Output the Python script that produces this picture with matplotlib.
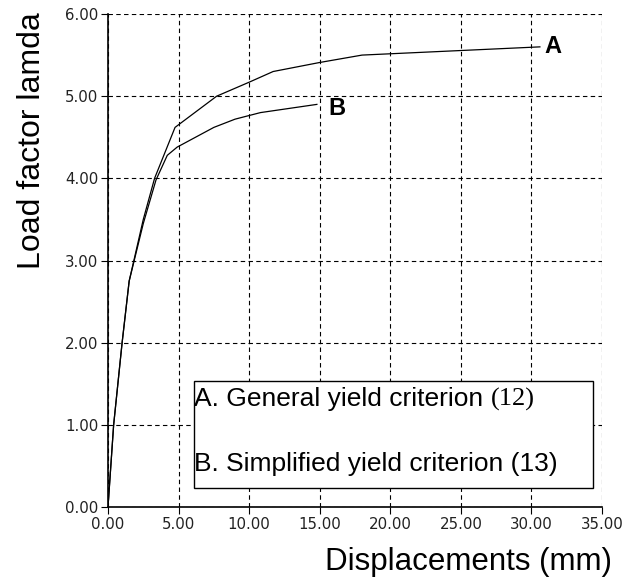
import matplotlib
matplotlib.use("Agg")
import matplotlib.pyplot as plt
from matplotlib.ticker import FormatStrFormatter

# Curve A: general yield criterion (12)
a_x = [0.0, 0.4, 1.0, 1.5, 2.5, 3.3, 4.75, 7.7, 10.0, 11.7, 15.0, 18.0, 30.6]
a_y = [0.0, 1.0, 2.0, 2.75, 3.5, 4.0, 4.62, 5.0, 5.17, 5.3, 5.41, 5.5, 5.6]
# Curve B: simplified yield criterion (13)
b_x = [0.0, 0.4, 1.0, 1.5, 2.5, 3.4, 4.2, 4.9, 7.5, 9.0, 10.8, 14.8]
b_y = [0.0, 1.0, 2.0, 2.75, 3.45, 3.98, 4.28, 4.38, 4.62, 4.72, 4.80, 4.90]

x_ticks = [0, 5, 10, 15, 20, 25, 30, 35]
y_ticks = [0, 1, 2, 3, 4, 5, 6]

fig = plt.figure(figsize=(6.22, 5.80), dpi=100)
ax = fig.add_axes([108/622, 1-507/580, (602-108)/622, (507-14)/580])

ax.plot(a_x, a_y, color="black", lw=0.9)
ax.plot(b_x, b_y, color="black", lw=0.9)

ax.set_xlim(0, 35)
ax.set_ylim(0, 6)
ax.set_xticks(x_ticks)
ax.set_yticks(y_ticks)
ax.xaxis.set_major_formatter(FormatStrFormatter("%.2f"))
ax.yaxis.set_major_formatter(FormatStrFormatter("%.2f"))
ax.grid(True, color="black", linestyle=(0, (4, 3)), lw=0.8)
ax.set_axisbelow(True)

for s in ["top", "right"]:
    ax.spines[s].set_visible(False)
for s in ["left", "bottom"]:
    ax.spines[s].set_linewidth(1.2)

ax.tick_params(direction="out", length=5, width=0.8, labelsize=10.8, pad=2)
for lab in ax.get_xticklabels() + ax.get_yticklabels():
    lab.set_family("DejaVu Sans")
    lab.set_color("#222222")

ax.text(30.9, 5.6, "A", fontsize=17, fontweight="bold", family="Liberation Sans",
        va="center", ha="left")
ax.text(15.6, 4.85, "B", fontsize=17, fontweight="bold", family="Liberation Sans",
        va="center", ha="left")

# legend box
bx0 = (194 - 108) / 14.114
bx1 = (593 - 108) / 14.114
by0 = (507 - 488) / 82.17
by1 = (507 - 381) / 82.17
ax.add_patch(plt.Rectangle((bx0, by0), bx1 - bx0, by1 - by0, facecolor="white",
                           edgecolor="black", lw=1.0, zorder=3))
ya = (507 - 399) / 82.17
yb = (507 - 464) / 82.17
fs = 19
t = ax.text(bx0, ya, "A. General yield criterion ", fontsize=fs, family="Liberation Sans",
            va="center", ha="left", zorder=4)
fig.canvas.draw()
bb = t.get_window_extent()
xend = ax.transData.inverted().transform((bb.x1, bb.y0))[0]
ax.text(xend, ya, "(12)", fontsize=fs, family="Liberation Serif",
        va="center", ha="left", zorder=4)
ax.text(bx0, yb, "B. Simplified yield criterion (13)", fontsize=fs,
        family="Liberation Sans", va="center", ha="left", zorder=4)

ax.set_xlabel("Displacements (mm)", fontsize=22.5, family="Liberation Sans")
ax.xaxis.set_label_coords((612 - 108) / 494, -(570 - 507) / 493)
ax.xaxis.label.set_ha("right")
ax.xaxis.label.set_va("baseline")
ax.set_ylabel("Load factor lamda", fontsize=23, family="Liberation Sans")
ax.yaxis.set_label_coords(-(108 - 32) / 494, (507 - 141) / 493)
ax.yaxis.label.set_va("center")

fig.savefig("out.png", dpi=100, facecolor="white")
